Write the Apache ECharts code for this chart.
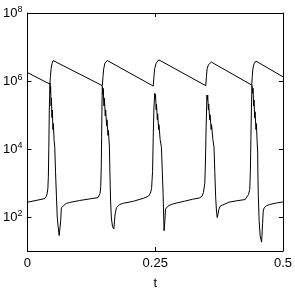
<!DOCTYPE html>
<html>
<head>
<meta charset="utf-8">
<script src="https://cdn.jsdelivr.net/npm/echarts@6/dist/echarts.min.js"></script>
<style>
html,body{margin:0;padding:0;background:#fff;}
#chart{width:295px;height:295px;}
</style>
</head>
<body>
<div id="chart"></div>
<script>
// x tick labels and y tick values
var xTicks = [0, 0.25, 0.5];
var yTicks = [1e2, 1e4, 1e6, 1e8];

// Series A: sawtooth  [t, value]
var seriesA = [
  [0, 1.77e6],
  [0.0438, 8.11e5], [0.0449, 1.35e6], [0.0463, 2.30e6], [0.0480, 3.21e6], [0.0501, 4.0e6],
  [0.1465, 7.29e5], [0.1478, 1.35e6], [0.1492, 2.30e6], [0.1517, 3.37e6], [0.1561, 4.0e6],
  [0.2461, 7.10e5], [0.2475, 1.35e6], [0.2490, 2.30e6], [0.2519, 3.37e6], [0.2571, 4.19e6],
  [0.3489, 7.29e5], [0.3502, 1.35e6], [0.3516, 2.30e6], [0.3541, 3.0e6], [0.3599, 3.60e6],
  [0.4389, 7.59e5], [0.4399, 1.35e6], [0.4412, 2.30e6], [0.4433, 3.21e6], [0.4472, 3.85e6],
  [0.5, 1.33e6]
];

// Series B: spiking trace  [t, value]
var seriesB = [
  [0, 272], [0.0341, 348], [0.0370, 406], [0.0386, 496], [0.0399, 690], [0.0409, 1530],
  [0.0418, 1.13e4], [0.0428, 1.61e5], [0.0441, 8.8e5],
  [0.0447, 4.37e5], [0.0453, 6.96e5], [0.0463, 1.84e5], [0.0468, 3.13e5], [0.0480, 8.29e4],
  [0.0486, 1.41e5], [0.0499, 3.73e4], [0.0507, 5.56e4], [0.0520, 1.92e4], [0.0534, 1.13e4],
  [0.0549, 2140], [0.0567, 406], [0.0582, 107], [0.0598, 55], [0.0621, 28.4], [0.0636, 32.4],
  [0.0650, 77], [0.0663, 187], [0.0678, 183], [0.0694, 209], [0.0707, 216], [0.0759, 250],
  [0.0823, 267], [0.1016, 305], [0.1209, 339], [0.1382, 372],
  [0.1401, 393], [0.1421, 496], [0.1434, 789], [0.1444, 2980], [0.1451, 2.19e4],
  [0.1459, 2.25e5], [0.1465, 6.96e5],
  [0.1475, 4.09e5], [0.1482, 6.10e5], [0.1498, 1.84e5], [0.1505, 3.13e5], [0.1523, 9.47e4],
  [0.1530, 1.41e5], [0.1550, 4.87e4], [0.1556, 7.26e4], [0.1575, 2.51e4], [0.1584, 3.49e4],
  [0.1604, 1.13e4], [0.1613, 2140], [0.1627, 291], [0.1642, 94], [0.1665, 51.6], [0.1690, 44.4],
  [0.1704, 77], [0.1715, 123], [0.1729, 140], [0.1742, 189], [0.1758, 183], [0.1773, 209],
  [0.1806, 234], [0.1883, 255], [0.2076, 291], [0.2269, 356], [0.2365, 406],
  [0.2404, 496], [0.2429, 690], [0.2448, 2140], [0.2461, 2.19e4], [0.2475, 1.61e5], [0.2490, 4.37e5],
  [0.2500, 3.13e5], [0.2506, 4.09e5], [0.2519, 1.41e5], [0.2525, 2.10e5], [0.2542, 7.26e4],
  [0.2548, 1.08e5], [0.2567, 3.73e4], [0.2573, 5.20e4], [0.2596, 1.92e4], [0.2621, 1.13e4],
  [0.2639, 2140], [0.2654, 496], [0.2666, 107], [0.2673, 39.6], [0.2689, 77], [0.2702, 171],
  [0.2718, 187], [0.2751, 209], [0.2814, 234], [0.2943, 264], [0.3072, 291], [0.3232, 333],
  [0.3362, 362], [0.3416, 406], [0.3444, 530], [0.3470, 964], [0.3483, 4160], [0.3496, 4.26e4],
  [0.3512, 3.83e5],
  [0.3522, 2.74e5], [0.3527, 3.83e5], [0.3541, 1.41e5], [0.3547, 2.10e5], [0.3566, 7.26e4],
  [0.3574, 1.01e5], [0.3595, 3.73e4], [0.3602, 5.20e4], [0.3628, 1.92e4], [0.3651, 1.13e4],
  [0.3666, 2140], [0.3682, 406], [0.3699, 150], [0.3714, 95.9], [0.3730, 123], [0.3747, 168],
  [0.3772, 209], [0.3811, 234], [0.3940, 272], [0.4100, 301], [0.4260, 326], [0.4293, 362],
  [0.4325, 455], [0.4350, 647], [0.4362, 2140], [0.4373, 2.19e4], [0.4383, 1.61e5], [0.4393, 7.43e5],
  [0.4408, 4.37e5], [0.4414, 6.10e5], [0.4427, 1.84e5], [0.4433, 2.74e5], [0.4447, 8.29e4],
  [0.4454, 1.24e5], [0.4472, 3.73e4], [0.4480, 5.56e4], [0.4495, 1.57e4], [0.4505, 8090],
  [0.4510, 1530], [0.4518, 406], [0.4534, 77], [0.4553, 28.4], [0.4582, 18.2], [0.4601, 63],
  [0.4614, 150], [0.4630, 183], [0.4649, 189], [0.4678, 216], [0.4742, 234], [0.4871, 258],
  [0.5, 278]
];

var FONT = '"Liberation Sans", Arial, Helvetica, sans-serif';
var chart = echarts.init(document.getElementById('chart'), null, {renderer: 'canvas'});

function xFmt(v) { return String(v); }
function yFmt(v) {
  var e = Math.round(Math.log(v) / Math.LN10);
  return '{a|10}{b|' + e + '}';
}

var axisLineStyle = {color: '#000', width: 1};
var tickCommon = {show: true, inside: true, length: 4, lineStyle: {color: '#000', width: 1}};

var option = {
  animation: false,
  backgroundColor: '#fff',
  grid: {left: 27, right: 8, top: 13, bottom: 39, containLabel: false},
  xAxis: [{
    type: 'value', min: 0, max: 0.5, interval: 0.25,
    axisLine: {show: true, lineStyle: axisLineStyle},
    axisTick: tickCommon,
    axisLabel: {color: '#000', fontSize: 13, fontFamily: FONT, margin: 6, formatter: xFmt,
                customValues: xTicks},
    splitLine: {show: false},
    name: 't', nameLocation: 'middle', nameGap: 26,
    nameTextStyle: {color: '#000', fontSize: 13, fontFamily: FONT}
  }, {
    type: 'value', position: 'top', min: 0, max: 0.5, interval: 0.25,
    axisLine: {show: true, onZero: false, lineStyle: axisLineStyle},
    axisTick: tickCommon,
    axisLabel: {show: false},
    splitLine: {show: false}
  }],
  yAxis: [{
    type: 'log', logBase: 10, min: 10, max: 1e8,
    axisLine: {show: true, lineStyle: axisLineStyle},
    axisTick: {show: true, inside: true, length: 4, lineStyle: {color: '#000', width: 1}, customValues: yTicks},
    axisLabel: {
      color: '#000', margin: 5, formatter: yFmt, customValues: yTicks,
      rich: {
        a: {fontSize: 13, fontFamily: FONT, color: '#000', lineHeight: 16, verticalAlign: 'middle'},
        b: {fontSize: 9, fontFamily: FONT, color: '#000', lineHeight: 10, verticalAlign: 'top'}
      }
    },
    splitLine: {show: false}
  }, {
    type: 'log', logBase: 10, min: 10, max: 1e8, position: 'right',
    axisLine: {show: true, onZero: false, lineStyle: axisLineStyle},
    axisTick: {show: true, inside: true, length: 4, lineStyle: {color: '#000', width: 1}, customValues: yTicks},
    axisLabel: {show: false},
    splitLine: {show: false}
  }],
  series: [{
    type: 'line', data: seriesA, xAxisIndex: 0, yAxisIndex: 0,
    showSymbol: false, symbol: 'none',
    lineStyle: {color: '#000', width: 1}
  }, {
    type: 'line', data: seriesB, xAxisIndex: 0, yAxisIndex: 0,
    showSymbol: false, symbol: 'none',
    lineStyle: {color: '#000', width: 1}
  }]
};
chart.setOption(option);
</script>
</body>
</html>
